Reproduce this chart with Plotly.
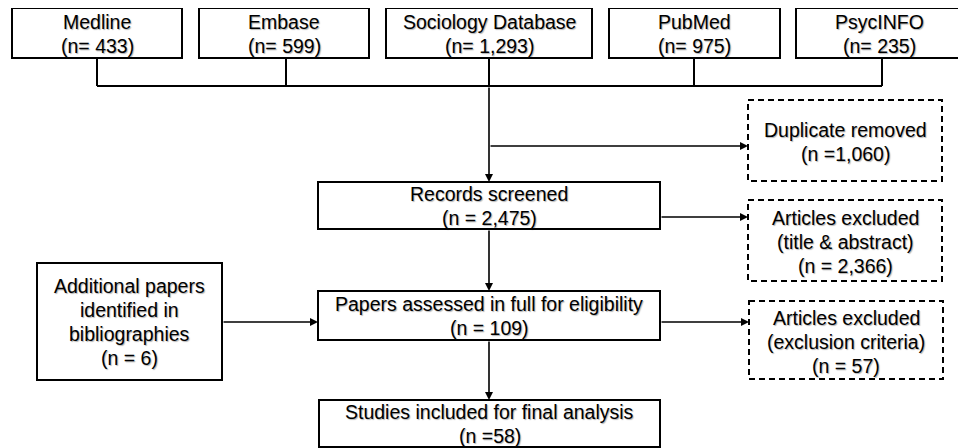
import plotly.graph_objects as go

# ---- data ----
source_names = ["Medline", "Embase", "Sociology Database", "PubMed", "PsycINFO"]
source_counts = [433, 599, 1293, 975, 235]
duplicates_removed = 1060
records_screened = 2475
excluded_title_abstract = 2366
additional_papers = 6
full_text_assessed = 109
excluded_criteria = 57
studies_included = 58

# ---- layout (page pixel coordinates; page body has an 8px margin) ----
W, H = 966, 448
OFF = 8
FONT = dict(family="Liberation Sans, Arial, sans-serif", size=19.5, color="black",
            shadow="1px 1px 1px rgba(0,0,0,0.3)")
LW = 2
LINE_GAP = 24

top_boxes = [(12, 182), (199, 369), (386, 592), (609, 780), (796, 963)]
top_y = (8, 58)

boxes = {
    "records": (318, 660, 182, 229),
    "papers": (318, 660, 291, 340),
    "studies": (319, 660, 400, 447),
    "additional": (37, 222, 263, 380),
}
dashed = {
    "dup": (748, 942, 100, 181),
    "title": (748, 942, 200, 281),
    "excl": (749, 943, 301, 379),
}

texts = {
    "records": (["Records screened", "(n = {:,})".format(records_screened)], 206),
    "papers": (["Papers assessed in full for eligibility", "(n = {:,})".format(full_text_assessed)], 316),
    "studies": (["Studies included for final analysis", "(n ={:,})".format(studies_included)], 424),
    "additional": (["Additional papers", "identified in", "bibliographies",
                    "(n = {:,})".format(additional_papers)], 322),
    "dup": (["Duplicate removed", "(n ={:,})".format(duplicates_removed)], 142),
    "title": (["Articles excluded", "(title & abstract)",
               "(n = {:,})".format(excluded_title_abstract)], 242),
    "excl": (["Articles excluded", "(exclusion criteria)",
              "(n = {:,})".format(excluded_criteria)], 342),
}

fig = go.Figure()
shapes = []
annotations = []

def rect(x0, x1, y0, y1, dash="solid"):
    shapes.append(dict(type="rect", xref="x", yref="y", x0=x0, x1=x1, y0=y0, y1=y1,
                       line=dict(color="black", width=LW, dash=dash), fillcolor="white",
                       layer="above"))

def line(x0, y0, x1, y1):
    shapes.append(dict(type="line", xref="x", yref="y", x0=x0, y0=y0, x1=x1, y1=y1,
                       line=dict(color="black", width=LW), layer="below"))

def arrow(x0, y0, x1, y1):
    annotations.append(dict(x=x1, y=y1, ax=x0, ay=y0, xref="x", yref="y", axref="x", ayref="y",
                            text="", showarrow=True, arrowhead=2, arrowsize=1.0,
                            arrowwidth=1.6, arrowcolor="black", standoff=0, startstandoff=0))

def label(lines, x, yc):
    n = len(lines)
    for i, t in enumerate(lines):
        y = yc + (i - (n - 1) / 2) * LINE_GAP
        annotations.append(dict(x=x, y=y, xref="x", yref="y", text=t, showarrow=False,
                                font=FONT, align="center", xanchor="center", yanchor="middle"))

# top sources
for (x0, x1), name, n in zip(top_boxes, source_names, source_counts):
    rect(x0, x1, top_y[0], top_y[1])
    label([name, "(n= {:,})".format(n)], (x0 + x1) / 2, 34)
conn_x = [97, 286, 489, 694, 882]
for cx in conn_x:
    line(cx, top_y[1], cx, 86)
line(conn_x[0], 86, conn_x[-1], 86)

MX = 489
arrow(MX, 86, MX, boxes["records"][2])
arrow(MX, 146, dashed["dup"][0], 146)
arrow(MX, boxes["records"][3], MX, boxes["papers"][2])
arrow(boxes["records"][1], 217, dashed["title"][0], 217)
arrow(boxes["additional"][1], 322, boxes["papers"][0], 322)
arrow(boxes["papers"][1], 322, dashed["excl"][0], 322)
arrow(MX, boxes["papers"][3], MX, boxes["studies"][2])

for k, (x0, x1, y0, y1) in boxes.items():
    rect(x0, x1, y0, y1)
    t, ty = texts[k]
    label(t, (x0 + x1) / 2, ty)
for k, (x0, x1, y0, y1) in dashed.items():
    rect(x0, x1, y0, y1, dash="6px,4px")
    t, ty = texts[k]
    label(t, (x0 + x1) / 2, ty)

fig.update_layout(
    width=W - OFF, height=H - OFF, margin=dict(l=0, r=0, t=0, b=0),
    paper_bgcolor="white", plot_bgcolor="white",
    xaxis=dict(range=[OFF, W], visible=False, fixedrange=True),
    yaxis=dict(range=[H, OFF], visible=False, fixedrange=True),
    shapes=shapes, annotations=annotations, showlegend=False,
)
fig.write_html("out.html")
